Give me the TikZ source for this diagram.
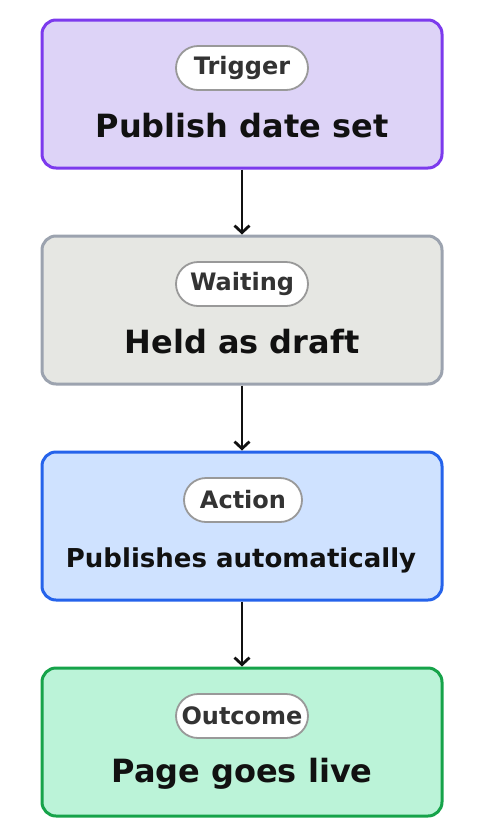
\documentclass[tikz,border=0pt]{standalone}
\usepackage{fontspec}
\setmainfont{DejaVu Sans}
\usetikzlibrary{arrows.meta}
\definecolor{trigfill}{HTML}{DDD3F7}
\definecolor{trigdraw}{HTML}{7C3AED}
\definecolor{waitfill}{HTML}{E6E7E3}
\definecolor{waitdraw}{HTML}{9CA3AF}
\definecolor{actfill}{HTML}{CFE2FF}
\definecolor{actdraw}{HTML}{2563EB}
\definecolor{outfill}{HTML}{BBF3D8}
\definecolor{outdraw}{HTML}{16A34A}
\definecolor{pilldraw}{HTML}{999999}
\definecolor{pilltext}{HTML}{333333}
\definecolor{maintext}{HTML}{111111}
\tikzset{
  card/.style={draw, line width=3pt, rounded corners=14pt, minimum width=400pt, minimum height=148pt, inner sep=0pt},
  pill/.style={draw=pilldraw, fill=white, line width=1.8pt, rounded corners=22pt, minimum height=44pt, inner sep=0pt, text=pilltext, font=\bfseries\fontsize{24}{24}\selectfont},
  title/.style={text=maintext, inner sep=0pt, font=\bfseries\fontsize{32}{32}\selectfont},
  titlesm/.style={text=maintext, inner sep=0pt, font=\bfseries\fontsize{26}{26}\selectfont},
  flow/.style={draw=maintext, line width=2.8pt, -{Straight Barb[length=7pt, width=15pt, line width=2.8pt]}}
}
\begin{document}
\begin{tikzpicture}[x=1pt, y=-1pt]
\useasboundingbox (0,0) rectangle (484,836);
\node[card, fill=trigfill, draw=trigdraw] (c1) at (242,94) {};
\node[card, fill=waitfill, draw=waitdraw] (c2) at (242,310) {};
\node[card, fill=actfill, draw=actdraw] (c3) at (242,526) {};
\node[card, fill=outfill, draw=outdraw] (c4) at (242,742) {};
\node[pill, minimum width=132pt] (p1) at (242,68) {Trigger};
\node[pill, minimum width=132pt] (p2) at (242,284) {Waiting};
\node[pill, minimum width=118pt] (p3) at (243,500) {Action};
\node[pill, minimum width=132pt] (p4) at (242,716) {Outcome};
\node[title] (t1) at (242,126) {Publish date set};
\node[title] (t2) at (242,342) {Held as draft};
\node[titlesm] (t3) at (241,560) {Publishes automatically};
\node[title] (t4) at (242,774) {Page goes live};
\draw[flow] (c1.south) -- (c2.north);
\draw[flow] (c2.south) -- (c3.north);
\draw[flow] (c3.south) -- (c4.north);
\end{tikzpicture}
\end{document}
